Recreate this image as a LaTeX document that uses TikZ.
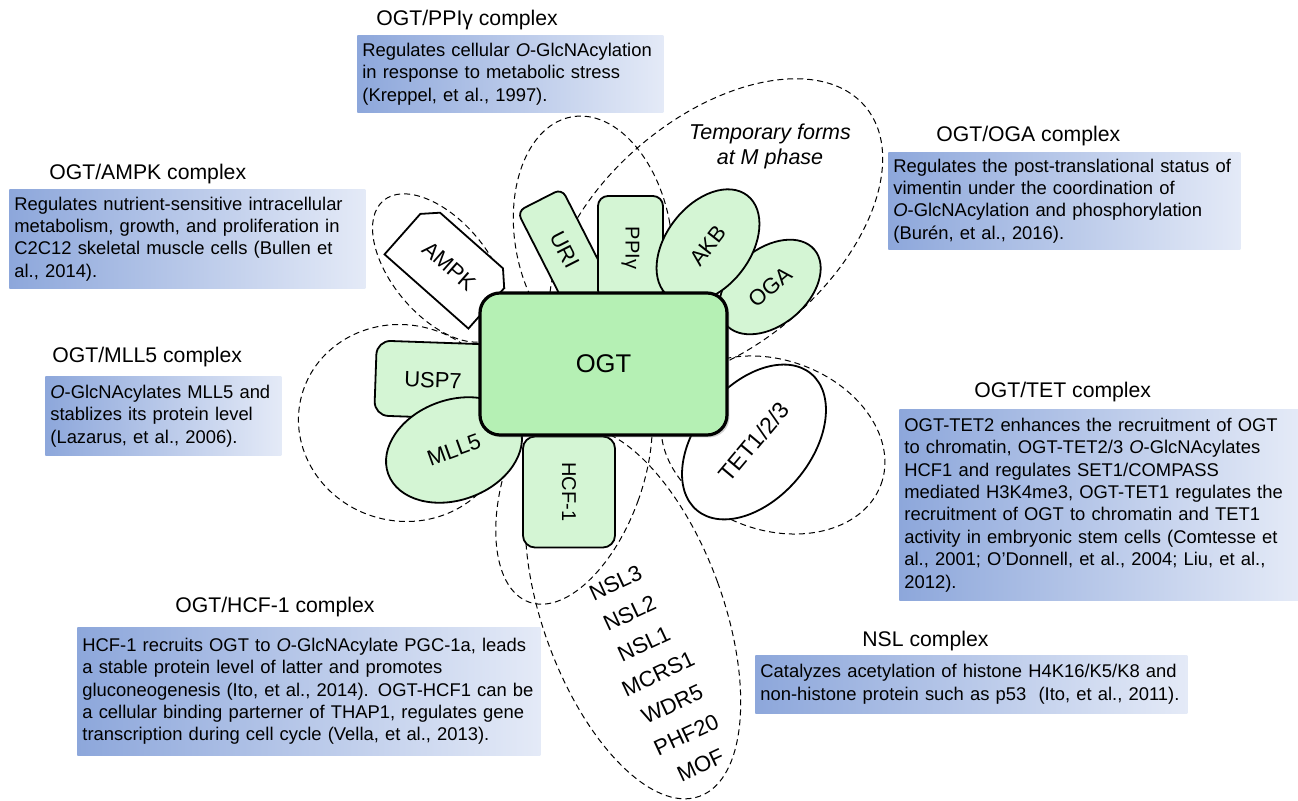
\documentclass[tikz,border=0pt]{standalone}
\usepackage{fontspec}
\setmainfont{Liberation Sans}
\usetikzlibrary{shapes.geometric,shapes.misc,positioning,shadows}
\definecolor{boxleft}{RGB}{141,167,219}
\definecolor{boxright}{RGB}{228,234,247}
\definecolor{protgreen}{RGB}{212,245,212}
\definecolor{ogtgreen}{RGB}{181,240,180}

\begin{document}
\begin{tikzpicture}[x=0.5pt, y=-0.5pt,
    descbox/.style={
        shade, left color=boxleft, right color=boxright,
        anchor=north west, inner xsep=2.5pt, inner ysep=0pt, align=left,
        font=\fontsize{9.2}{11.2}\selectfont},
    grptitle/.style={inner sep=0pt, font=\fontsize{10.6}{12}\selectfont},
    protein/.style={draw, line width=0.9pt, fill=protgreen, inner sep=0pt,
        font=\fontsize{11}{12}\selectfont},
    partner/.style={protein, fill=white},
    proteinbox/.style={protein, rectangle, rounded corners=#1},
    proteinbox/.default=5pt,
    proteinoval/.style={protein, ellipse},
    complexring/.style={draw, ellipse, dash pattern=on 3pt off 2pt,
        line width=0.5pt, inner sep=0pt}
]
\useasboundingbox (0,0) rectangle (1298,801);

\node[complexring, minimum width=88pt, minimum height=48pt, rotate=-50] (ringampk) at (440,268) {};
\node[complexring, minimum width=78pt, minimum height=122pt, rotate=10] (ringuri) at (593,237) {};
\node[complexring, minimum width=195pt, minimum height=115pt, rotate=40] (ringmphase) at (716,232) {};
\node[complexring, minimum width=105pt, minimum height=98pt, rotate=-15] (ringmll) at (403,423) {};
\node[complexring, minimum width=115pt, minimum height=85pt, rotate=-20] (ringtet) at (773,445) {};
\node[complexring, minimum width=68pt, minimum height=132pt, rotate=-20] (ringhcf) at (574,478) {};
\node[complexring, minimum width=90pt, minimum height=195pt, rotate=20] (ringnsl) at (633,613) {};

\node[font=\itshape\fontsize{10.75}{12.5}\selectfont, align=center, inner sep=0pt] (mphase) at (770,146) {Temporary forms\\at M phase};

\node[partner, chamfered rectangle, chamfered rectangle corners={north west,north east},
    chamfered rectangle xsep=3.5pt, chamfered rectangle ysep=3.5pt,
    minimum width=56pt, minimum height=34pt, rotate=-41.5] (ampk) at (449,266) {AMPK};
\node[proteinbox=4pt, minimum width=56pt, minimum height=25pt, rotate=-63] (uri) at (565,250) {URI};
\node[proteinbox, minimum width=52pt, minimum height=32.5pt, rotate=-90,
    font=\fontsize{10}{12}\selectfont] (ppi) at (630.5,248) {PPIγ};
\node[proteinoval, minimum width=58pt, minimum height=38pt, rotate=40] (oga) at (770,287) {OGA};
\node[proteinoval, minimum width=64pt, minimum height=42pt, rotate=52] (akb) at (708,246) {AKB};
\node[proteinbox=7pt, minimum width=57.5pt, minimum height=37.5pt, rotate=-2] (usp) at (433,380) {USP7};
\node[proteinoval, minimum width=70pt, minimum height=50pt, rotate=20] (mll) at (454,450) {MLL5};
\node[proteinbox=6pt, minimum width=55.5pt, minimum height=46pt, rotate=-90,
    font=\fontsize{10}{12}\selectfont] (hcf) at (569,492) {HCF-1};
\node[partner, ellipse, minimum width=89pt, minimum height=57pt, rotate=50,
    font=\fontsize{11.5}{12}\selectfont] (tet) at (754,442) {TET1/2/3};

\node[draw, line width=1.6pt, rounded corners=10pt, fill=ogtgreen,
    drop shadow={shadow xshift=1.2pt, shadow yshift=-1.2pt, opacity=0.35},
    minimum width=123.5pt, minimum height=71pt,
    font=\fontsize{12.8}{14}\selectfont] (ogt) at (603.5,364) {OGT};

\node[rotate=25, align=center, inner sep=0pt, font=\fontsize{11}{16.75}\selectfont] (nslmembers) at (658,674)
    {NSL3\\NSL2\\NSL1\\MCRS1\\WDR5\\PHF20\\MOF};

\node[descbox, minimum width=153pt, minimum height=38.5pt, text width=148pt] (boxppi) at (357,35)
    {Regulates cellular \textit{O}-GlcNAcylation\\in response to metabolic stress\\(Kreppel, et al., 1997).};
\node[descbox, minimum width=178pt, minimum height=49.5pt, text width=173pt] (boxampk) at (9,189)
    {Regulates nutrient-sensitive intracellular\\metabolism, growth, and proliferation in\\C2C12 skeletal muscle cells (Bullen et\\al., 2014).};
\node[descbox, minimum width=176pt, minimum height=48.5pt, text width=171pt] (boxoga) at (888,152)
    {Regulates the post-translational status of\\vimentin under the coordination of\\\textit{O}-GlcNAcylation and phosphorylation\\(Burén, et al., 2016).};
\node[descbox, minimum width=118pt, minimum height=39.5pt, text width=113pt] (boxmll) at (45,376)
    {\textit{O}-GlcNAcylates MLL5 and\\stablizes its protein level\\(Lazarus, et al., 2006).};
\node[descbox, minimum width=199.5pt, minimum height=95.5pt, text width=194.5pt] (boxtet) at (899,409)
    {OGT-TET2 enhances the recruitment of OGT\\to chromatin, OGT-TET2/3 \textit{O}-GlcNAcylates\\HCF1 and regulates SET1/COMPASS\\mediated H3K4me3, OGT-TET1 regulates the\\recruitment of OGT to chromatin and TET1\\activity in embryonic stem cells (Comtesse et\\al., 2001; O’Donnell, et al., 2004; Liu, et al.,\\2012).};
\node[descbox, minimum width=231.5pt, minimum height=64pt, text width=226.5pt] (boxhcf) at (77,627)
    {HCF-1 recruits OGT to \textit{O}-GlcNAcylate PGC-1a, leads\\a stable protein level of latter and promotes\\gluconeogenesis (Ito, et al., 2014). OGT-HCF1 can be\\a cellular binding parterner of THAP1, regulates gene\\transcription during cell cycle (Vella, et al., 2013).};
\node[descbox, minimum width=216pt, minimum height=29pt, text width=211pt] (boxnsl) at (755,655)
    {Catalyzes acetylation of histone H4K16/K5/K8 and\\non-histone protein such as p53~ (Ito, et al., 2011).};

\node[grptitle, above right=2.5pt and 9.5pt of boxppi.north west] (titleppi) {OGT/PPIγ complex};
\node[grptitle, above right=2.5pt and 20pt of boxampk.north west] (titleampk) {OGT/AMPK complex};
\node[grptitle, above right=3pt and 24pt of boxoga.north west] (titleoga) {OGT/OGA complex};
\node[grptitle, above right=4.5pt and 3.5pt of boxmll.north west] (titlemll) {OGT/MLL5 complex};
\node[grptitle, above right=3.5pt and 37.5pt of boxtet.north west] (titletet) {OGT/TET complex};
\node[grptitle, above right=5pt and 49pt of boxhcf.north west] (titlehcf) {OGT/HCF-1 complex};
\node[grptitle, above right=2pt and 53.5pt of boxnsl.north west] (titlensl) {NSL complex};

\end{tikzpicture}
\end{document}
